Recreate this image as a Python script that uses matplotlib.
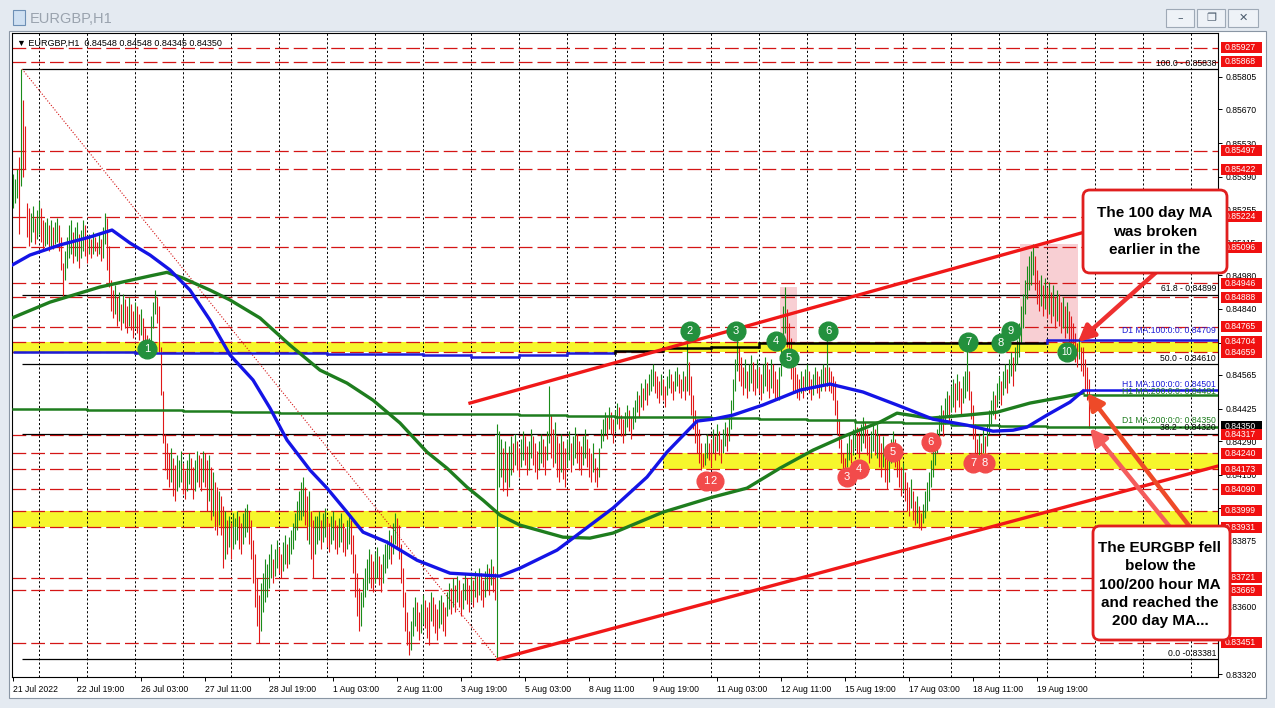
import matplotlib.pyplot as plt
import numpy as np
from matplotlib.patches import Rectangle, FancyBboxPatch
from matplotlib.transforms import IdentityTransform

plt.rcParams['font.family'] = ['Liberation Sans', 'DejaVu Sans']

W, H = 1275, 708

# hourly bars, prices in pips above 0.8300
bar_high_pips = [
    240, 238, 242, 247, 284, 271, 260,
    228, 226, 224, 227, 222, 225, 229, 226, 221, 220, 222, 219, 221, 218, 220, 222, 219,
    214, 203,
    208, 214, 219, 221, 216, 218, 220, 215, 217, 221, 219, 214, 215, 213, 216, 214, 212, 215, 213,
    218, 224, 222, 210,
    196, 192, 194, 189, 191, 186, 190, 188, 185, 189, 186, 183, 187, 185, 182, 184, 180,
    176, 173, 172, 181, 187, 192, 189,
    185, 168, 150, 132,
    128, 124, 126, 122, 119, 123, 121, 125, 120, 117, 121, 124, 122, 118, 121, 125, 123,
    122, 125, 124, 121, 123, 118, 116, 112, 110, 108,
    106, 102, 100, 96, 98, 95, 99, 97, 100, 98, 95, 99, 101, 103, 100,
    96, 88, 82, 72, 65, 70, 74, 80, 78,
    82, 86, 80, 84, 88, 85, 82, 87, 90, 86, 89, 92, 95, 99, 104, 108,
    112, 114, 110, 106, 108, 100, 96, 98,
    98, 100, 96, 99, 101, 97, 95, 98, 100, 96, 94, 97, 99, 95, 93, 96, 98,
    96, 90, 82, 74, 68, 66, 72,
    76, 80, 84, 82, 79, 83, 85, 81, 78, 82, 86,
    88, 92, 90, 95, 99, 97, 94,
    86, 76, 66, 58, 50, 54,
    60, 64, 62, 58, 61, 65, 63, 60, 62, 66, 64, 61, 59, 63, 65, 62, 60,
    66, 70, 68, 72, 69, 73, 71, 67, 70, 74, 72, 69, 73, 71, 75, 73, 76, 74, 71, 75, 78, 76, 80, 77, 74,
    136,
    133, 130, 126, 129, 124, 127, 131,
    128, 132, 129, 126, 130, 133, 131, 127, 129, 134, 131, 128, 125, 129, 132, 130, 127, 133,
    152, 140, 134, 137, 131, 128, 132, 129, 126,
    130, 133, 128, 131, 135, 132, 129, 127, 131, 134, 130, 126, 124, 128, 122, 118, 126,
    134, 138, 141, 139, 143, 141, 138, 142, 145, 143, 140, 138, 141, 144, 142, 139, 143,
    146, 150, 148, 153, 151, 155, 153, 157, 159, 161, 158, 156, 154, 157, 155, 152,
    156, 159, 157, 154, 158, 160, 157, 155, 158, 156,
    170, 162, 156, 148, 142, 138, 134, 128, 124, 128,
    132, 128, 130, 134, 131, 136, 133, 130, 134, 137, 135, 139,
    146, 155, 163, 171,
    168, 164, 160, 163, 158, 161, 165, 162, 159, 163, 160, 157, 161, 164, 162, 159, 163, 161, 158, 155,
    160, 172, 185, 193, 184, 178, 172, 166,
    160, 157, 155, 158, 156, 159, 161, 158, 155, 157, 160, 158, 156, 159, 161, 160,
    171, 160, 158, 156,
    154, 146, 138, 130, 124, 122,
    128, 132, 130, 134, 137, 135, 133, 136, 139, 137, 134, 131, 133, 136, 134,
    136, 132, 128, 131, 126, 122, 125, 130, 133,
    130, 126, 122, 118, 120, 116, 112, 110, 113, 108, 104, 106, 102, 99, 103,
    108, 112, 116, 121, 126, 130, 134,
    140, 144, 142, 147, 150, 148, 152, 155, 153, 157, 154, 151, 156, 158,
    170, 158, 150, 144, 136, 130, 132, 128, 134, 131, 136,
    142, 146, 150, 148, 153, 156, 154, 158, 161, 159, 163, 166, 164, 168, 171,
    178, 185, 190, 196, 202, 206, 208, 211,
    206, 200, 196, 198, 194, 197, 193, 195, 191, 194, 189, 192, 190, 187, 189, 185, 187, 183, 181, 178,
    174, 170, 172, 168,
    168, 163, 160, 154.8,
]
bar_low_pips = [
    226, 228, 230, 215, 235, 239, 242,
    214, 210, 212, 216, 211, 213, 215, 212, 209, 210, 211, 208, 210, 209, 211, 212, 208,
    200, 189,
    196, 201, 205, 207, 203, 206, 204, 201, 205, 208, 206, 203, 207, 205, 207, 208, 206, 207, 204,
    205, 211, 200, 193,
    183, 180, 182, 177, 179, 175, 178, 176, 174, 177, 175, 172, 176, 174, 171, 173, 170,
    168, 165, 166, 170, 176, 182, 178,
    166, 148, 128, 117,
    113, 110, 112, 106, 104, 108, 110, 112, 107, 105, 108, 111, 109, 105, 108, 112, 110,
    108, 112, 110, 100, 104, 96, 98, 92, 90, 94,
    90, 76, 80, 82, 85, 80, 84, 86, 88, 84, 82, 86, 89, 91, 86,
    80, 70, 60, 52, 45, 50, 58, 62, 64,
    68, 72, 70, 73, 76, 74, 72, 75, 78, 76, 78, 82, 84, 88, 92, 96,
    96, 98, 94, 88, 86, 80, 72, 82,
    86, 88, 84, 87, 89, 85, 83, 86, 88, 84, 82, 85, 87, 83, 81, 84, 86,
    82, 74, 64, 56, 50, 52, 60,
    64, 67, 70, 68, 66, 70, 72, 69, 66, 70, 74,
    76, 80, 78, 82, 86, 84, 80,
    70, 60, 50, 44, 40, 42,
    48, 52, 50, 46, 49, 53, 51, 47, 44, 54, 52, 49, 46, 51, 53, 50, 48,
    56, 59, 57, 60, 58, 62, 60, 56, 59, 63, 61, 58, 62, 60, 64, 62, 65, 63, 60, 64, 67, 65, 69, 66, 63,
    38.1,
    110, 114, 108, 112, 106, 110, 115,
    116, 119, 117, 114, 118, 121, 119, 115, 117, 122, 119, 116, 113, 117, 120, 118, 115, 121,
    128, 122, 118, 120, 114, 112, 116, 113, 110,
    118, 121, 116, 119, 122, 120, 117, 115, 119, 122, 118, 114, 112, 116, 112, 110, 114,
    126, 129, 132, 130, 134, 132, 128, 133, 136, 134, 131, 128, 132, 135, 133, 130, 134,
    137, 141, 139, 143, 142, 146, 144, 148, 150, 152, 149, 147, 145, 148, 146, 143,
    148, 151, 149, 146, 150, 152, 149, 147, 150, 146,
    150, 148, 140, 134, 128, 124, 120, 117, 118, 119,
    122, 121, 118, 124, 121, 125, 123, 120, 124, 127, 125, 129,
    134, 142, 150, 158,
    154, 152, 148, 151, 147, 150, 153, 150, 148, 151, 149, 146, 149, 152, 150, 147, 151, 149, 146, 146,
    146, 156, 168, 174, 168, 160, 155, 150,
    149, 147, 146, 149, 147, 150, 152, 149, 146, 148, 151, 149, 147, 150, 152, 150,
    152, 150, 149, 146,
    140, 132, 126, 120, 117, 116,
    118, 121, 120, 123, 126, 124, 122, 125, 128, 126, 123, 120, 122, 125, 123,
    122, 118, 114, 118, 112, 109, 112, 120, 126,
    118, 114, 110, 106, 108, 104, 100, 98, 101, 96, 94, 95, 93, 92, 95,
    97, 100, 104, 110, 114, 119, 124,
    130, 133, 131, 136, 139, 137, 141, 143, 141, 146, 143, 140, 145, 147,
    150, 146, 138, 130, 124, 121, 123, 121, 124, 122, 127,
    132, 136, 140, 138, 143, 146, 144, 148, 151, 149, 153, 156, 152, 158, 161,
    164, 170, 176, 182, 188, 192, 194, 198,
    192, 186, 183, 185, 181, 184, 180, 182, 178, 181, 176, 179, 177, 174, 176, 172, 174, 170, 168, 165,
    162, 160, 163, 158,
    156, 150, 146, 134.5,
]

x_label_bars = [0, 32, 64, 96, 128, 160, 192, 224, 256, 288, 320, 352, 384, 416, 448, 480, 512]
x_labels = ['21 Jul 2022', '22 Jul 19:00', '26 Jul 03:00', '27 Jul 11:00', '28 Jul 19:00',
            '1 Aug 03:00', '2 Aug 11:00', '3 Aug 19:00', '5 Aug 03:00', '8 Aug 11:00',
            '9 Aug 19:00', '11 Aug 03:00', '12 Aug 11:00', '15 Aug 19:00', '17 Aug 03:00',
            '18 Aug 11:00', '19 Aug 19:00']

price_ticks = [0.85805, 0.85670, 0.85530, 0.85390, 0.85255, 0.85115, 0.84980, 0.84840,
               0.84700, 0.84565, 0.84425, 0.84290, 0.84150, 0.84010, 0.83875, 0.83735,
               0.83600, 0.83460, 0.83320]

levels = [0.85927, 0.85868, 0.85497, 0.85422, 0.85224, 0.85096, 0.84946, 0.84888, 0.84765,
          0.84704, 0.84659, 0.84317, 0.84240, 0.84173, 0.84090, 0.83999, 0.83931, 0.83721,
          0.83669, 0.83451]
last_price = 0.84350

band_low = [0.84659, 0.84173, 0.83931]
band_high = [0.84704, 0.84240, 0.83999]
band_start = [-0.5, 325, -0.5]

zone_start = [383.5, 503.5]
zone_end = [392, 532.5]
zone_low = [0.84698, 0.84698]
zone_high = [0.84930, 0.85110]

fib_names = ['100.0', '61.8', '50.0', '38.2', '0.0']
fib_prices = [0.85838, 0.84899, 0.84610, 0.84320, 0.83381]
fib_bar_high, fib_bar_low = 4.5, 242.5

h1_ma100_bars = [-0.5, 8.5, 23.5, 38.5, 49.5, 58.5, 68.5, 78.5, 88.5, 98.5, 108.5, 120, 128.5,
                 137, 148.5, 157, 167, 175, 187, 202, 218.5, 235, 243.5, 253.5, 272, 300, 317,
                 327, 342, 350, 360, 375, 393.5, 408.5, 425, 442, 460, 477, 490, 500, 507, 517,
                 528.5, 535]
h1_ma100_pips = [202.2, 206.4, 210.6, 213.9, 216.8, 211.4, 206.4, 200.2, 191.8, 179.3, 164.8,
                 154.4, 142.7, 129.4, 116.9, 109.4, 99.4, 91.1, 86.9, 79.4, 74, 73.2, 72.8, 76.1,
                 83.6, 101.1, 114, 124.4, 137.3, 138.1, 139.8, 144, 150.2, 152.7, 149.4, 144,
                 138.1, 135.6, 133.1, 133.5, 134.8, 139.8, 145.2, 149.8]
h1_ma200_bars = [-0.5, 18.5, 43.5, 68.5, 77, 85, 98.5, 108.5, 123.5, 138.5, 153.5, 167, 180,
                 193.5, 207, 217, 227, 235, 243.5, 253.5, 275, 288.5, 300, 325, 350, 367, 383.5,
                 400, 417, 433.5, 442, 458.5, 477, 492, 508.5, 525, 535]
h1_ma200_pips = [180.2, 186.8, 193.1, 197.7, 199.2, 196.8, 191.8, 187.7, 180.2, 168.9, 158.5,
                 153.1, 146, 136.5, 124.4, 117.7, 109.8, 104.4, 98.2, 94, 89, 88.6, 90.7, 99.4,
                 105.7, 109.4, 117.7, 125.2, 131.5, 136.9, 140.6, 138.5, 139.8, 141, 144.8,
                 147.3, 149]
h1_ma100_now, h1_ma200_now = 0.84501, 0.84481

day_start_bars = [0, 13, 37, 61, 85, 109, 133, 157, 181, 205, 229, 253, 277, 301, 325, 349,
                  373, 397, 421, 445, 469, 493, 517]
d1_ma100 = [0.84660, 0.84660, 0.84659, 0.84658, 0.84657, 0.84656, 0.84655, 0.84654, 0.84652,
            0.84646, 0.84641, 0.84648, 0.84656, 0.84664, 0.84677, 0.84681, 0.84698, 0.84698,
            0.84698, 0.84698, 0.84698, 0.84698, 0.84709]
d1_ma200 = [0.84425, 0.84423, 0.84421, 0.84419, 0.84415, 0.84410, 0.84408, 0.84406, 0.84405,
            0.84402, 0.84401, 0.84398, 0.84393, 0.84390, 0.84389, 0.84387, 0.84381, 0.84377,
            0.84368, 0.84364, 0.84356, 0.84352, 0.84350]

upper_channel_bars = [228.5, 536]
upper_channel_prices = [0.84448, 0.85160]
lower_channel_bars = [242.5, 602.5]
lower_channel_prices = [0.83382, 0.84186]

green_marks = ['1', '2', '3', '4', '5', '6', '7', '8', '9', '10']
green_mark_bars = [67, 338.5, 361.5, 381.5, 388, 407.5, 477.5, 494, 499, 527]
green_mark_prices = [0.84673, 0.84748, 0.84748, 0.84706, 0.84635, 0.84748, 0.84702, 0.84698,
                     0.84748, 0.84660]
red_marks = ['1', '2', '3', '4', '5', '6', '7', '8']
red_mark_bars = [346.5, 350.5, 417, 423, 440, 459, 480, 486]
red_mark_prices = [0.84123, 0.84123, 0.84139, 0.84173, 0.84244, 0.84285, 0.84198, 0.84198]

# ---------------------------------------------------------------- figure
fig = plt.figure(figsize=(W / 100, H / 100), dpi=100)
fig.patch.set_facecolor('#e4eaf1')
px = IdentityTransform()


def fig_rect(x0, y0, x1, y1, **kw):
    fig.add_artist(Rectangle((x0, H - y1), x1 - x0, y1 - y0, transform=px, **kw))


# window chrome
fig_rect(9, 31, 1266, 698, fc='white', ec='#8a96a4', lw=0.8, zorder=-2)
fig_rect(13, 10, 25, 25, fc='#cfe0f2', ec='#6d8fb5', lw=0.8)
fig.text(30 / W, 1 - 19 / H, 'EURGBP,H1', color='#9aa3ae', fontsize=10.5, va='center')
for bx0, bx1, glyph in [(1166, 1194, '\u2013'), (1197, 1225, '\u2750'), (1228, 1258, '\u2715')]:
    fig_rect(bx0, 9, bx1, 27, fc='#eef2f7', ec='#9ea9b6', lw=0.8)
    fig.text((bx0 + bx1) / 2 / W, 1 - 18 / H, glyph, color='#4a5a6c', fontsize=8,
             ha='center', va='center', family=['DejaVu Sans'])

ax = fig.add_axes([12 / W, 1 - 677 / H, 1206 / W, 644 / H])
ymin, ymax = 0.83308, 0.85988
ax.set_xlim(-0.5, 602.5)
ax.set_ylim(ymin, ymax)
ppx = (ymax - ymin) / 644.0
for s in ax.spines.values():
    s.set_color('black')
    s.set_linewidth(0.8)

ax.yaxis.tick_right()
ax.set_yticks(price_ticks)
ax.set_yticklabels(['%.5f' % p for p in price_ticks])
ax.set_xticks(x_label_bars)
ax.set_xticklabels(x_labels)
for lab in ax.get_xticklabels():
    lab.set_ha('left')
ax.tick_params(axis='both', labelsize=6.2, length=3, width=0.7, pad=2.5, colors='black')

# vertical grid
for g in range(13, 603, 24):
    ax.axvline(g, color='black', lw=0.7, ls=(0, (2.2, 2.2)), zorder=1.5)

# yellow bands and pink zones
for lo, hi, st in zip(band_low, band_high, band_start):
    ax.fill_between([st, 602.5], lo, hi, color='#f6f62c', lw=0, zorder=1)
for x0, x1, lo, hi in zip(zone_start, zone_end, zone_low, zone_high):
    ax.add_patch(Rectangle((x0, lo), x1 - x0, hi - lo, fc='#f8cfd3', ec='none', zorder=1))

# red dashed levels
for lv in levels:
    ax.axhline(lv, color='#d41515', lw=0.9, ls=(0, (11, 4)), zorder=2)

# fibonacci
for name, fp in zip(fib_names, fib_prices):
    ax.hlines(fp, fib_bar_high, 602.5, color='black', lw=0.9, zorder=2)
    ax.text(601.5, fp + 1.5 * ppx, '%s - %.5f' % (name, fp) if name != '0.0' else '0.0 -%.5f' % fp,
            ha='right', va='bottom', fontsize=6.2, zorder=6)
ax.plot([fib_bar_high, fib_bar_low], [fib_prices[0], fib_prices[-1]], color='#d41515', lw=0.8,
        ls=(0, (1, 1.6)), zorder=2)

# candles
hi = 0.83 + np.array(bar_high_pips) / 10000.0
lo = 0.83 + np.array(bar_low_pips) / 10000.0
mid = (hi + lo) / 2
bars = np.arange(len(hi))
cols = ['#1a8c1a' if k == 0 or mid[k] >= mid[k - 1] else '#e01818' for k in bars]
ax.vlines(bars, lo, hi, colors=cols, lw=0.8, zorder=3)

# D1 moving averages (stepped)
edges = day_start_bars + [602.5]
d1_100_cols = ['#1c1cd6'] * 13 + ['black'] * 9 + ['#1c1cd6']
for k in range(len(d1_ma100)):
    xs = [edges[k], edges[k + 1]]
    ax.plot(xs, [d1_ma100[k]] * 2, color=d1_100_cols[k], lw=1.8, zorder=4,
            solid_capstyle='butt')
    if k + 1 < len(d1_ma100):
        ax.plot([edges[k + 1]] * 2, [d1_ma100[k], d1_ma100[k + 1]], color=d1_100_cols[k + 1],
                lw=1.8, zorder=4)
ax.step(edges, d1_ma200 + [d1_ma200[-1]], where='post', color='#1e7d1e', lw=1.8, zorder=4)

# H1 moving averages
ax.plot(h1_ma200_bars, 0.83 + np.array(h1_ma200_pips) / 10000.0, color='#1e7d1e', lw=2.4, zorder=4)
ax.hlines(h1_ma200_now, h1_ma200_bars[-1], 602.5, color='#1e7d1e', lw=1.8, zorder=4)
ax.plot(h1_ma100_bars, 0.83 + np.array(h1_ma100_pips) / 10000.0, color='#1414e6', lw=2.4, zorder=4)
ax.hlines(h1_ma100_now, h1_ma100_bars[-1], 602.5, color='#1414e6', lw=1.8, zorder=4)

ax.text(601.5, d1_ma100[-1] + 5 * ppx, 'D1 MA:100:0:0: %.5f' % d1_ma100[-1], color='#1c1cd6',
        ha='right', va='bottom', fontsize=6.2, zorder=6)
ax.text(601.5, h1_ma100_now + 1.5 * ppx, 'H1 MA:100:0:0: %.5f' % h1_ma100_now, color='#1c1cd6',
        ha='right', va='bottom', fontsize=6.2, zorder=6)
ax.text(601.5, h1_ma200_now - 1 * ppx, 'H1 MA:200:0:0: %.5f' % h1_ma200_now, color='#1e7d1e',
        ha='right', va='bottom', fontsize=6.2, zorder=6)
ax.text(601.5, d1_ma200[-1] + 1.5 * ppx, 'D1 MA:200:0:0: %.5f' % d1_ma200[-1], color='#1e7d1e',
        ha='right', va='bottom', fontsize=6.2, zorder=6)

# channel
ax.plot(upper_channel_bars, upper_channel_prices, color='#f01818', lw=2.4, zorder=5)
ax.plot(lower_channel_bars, lower_channel_prices, color='#f01818', lw=2.4, zorder=5)

# numbered swing markers
for t, b, p in zip(green_marks, green_mark_bars, green_mark_prices):
    ax.plot(b, p, 'o', ms=13.5, mfc='#23903d', mec='#23903d', zorder=6)
    ax.text(b, p, t, color='white', ha='center', va='center', fontsize=8 if len(t) == 1 else 7,
            zorder=7)
for t, b, p in zip(red_marks, red_mark_bars, red_mark_prices):
    ax.plot(b, p, 'o', ms=13.5, mfc='#f24b4b', mec='#f24b4b', zorder=6)
    ax.text(b, p, t, color='white', ha='center', va='center', fontsize=8, zorder=7)

# header
ax.text(5 / 1206, 1 - 10 / 644, '\u25bc EURGBP,H1  0.84548 0.84548 0.84345 0.84350',
        transform=ax.transAxes, fontsize=6.5, va='center', ha='left', zorder=8)

# price boxes on the right scale
ytr = ax.get_yaxis_transform()
ax.add_patch(Rectangle((1 + 3 / 1206, last_price - 5.5 * ppx), 41 / 1206, 11 * ppx,
                       transform=ytr, fc='black', ec='none', clip_on=False, zorder=9))
ax.text(1 + 7 / 1206, last_price, '%.5f' % last_price, transform=ytr, color='white',
        fontsize=6.2, va='center', ha='left', clip_on=False, zorder=9)
for lv in levels:
    ax.add_patch(Rectangle((1 + 3 / 1206, lv - 5.5 * ppx), 41 / 1206, 11 * ppx,
                           transform=ytr, fc='#f01010', ec='none', clip_on=False, zorder=10))
    ax.text(1 + 7 / 1206, lv, '%.5f' % lv, transform=ytr, color='white', fontsize=6.2,
            va='center', ha='left', clip_on=False, zorder=10)

# arrows
arrow_tips = [(532.5, 0.84702), (537, 0.84490), (538.5, 0.84344)]
arrow_tails = [(575, 0.85018), (588.5, 0.83932), (578.5, 0.83932)]
arrow_cols = ['#ee3030', '#ee4a28', '#f45c5c']
for tip, tail, c in zip(arrow_tips, arrow_tails, arrow_cols):
    ax.annotate('', xy=tip, xytext=tail, annotation_clip=False, zorder=11,
                arrowprops=dict(arrowstyle='-|>,head_length=0.7,head_width=0.35', color=c, lw=3.2,
                                shrinkA=0, shrinkB=0, mutation_scale=14))

# comment boxes
for (x0, y0, x1, y1) in [(1083, 190, 1227, 273), (1093, 526, 1230, 640)]:
    fig.add_artist(FancyBboxPatch((x0, H - y1), x1 - x0, y1 - y0,
                                  boxstyle='round,pad=0,rounding_size=7', transform=px,
                                  fc='white', ec='#e01e1e', lw=2, zorder=12))
for k, line in enumerate(['The 100 day MA', 'was broken', 'earlier in the']):
    fig.text(1155 / W, 1 - (213 + 18.5 * k) / H, line, ha='center', va='center',
             fontsize=11, fontweight='bold', zorder=13)
for k, line in enumerate(['The EURGBP fell', 'below the', '100/200 hour MA',
                          'and reached the', '200 day MA...']):
    fig.text(1160 / W, 1 - (548 + 18.3 * k) / H, line, ha='center', va='center',
             fontsize=11, fontweight='bold', zorder=13)

fig.savefig('out.png', dpi=100, facecolor=fig.get_facecolor())
